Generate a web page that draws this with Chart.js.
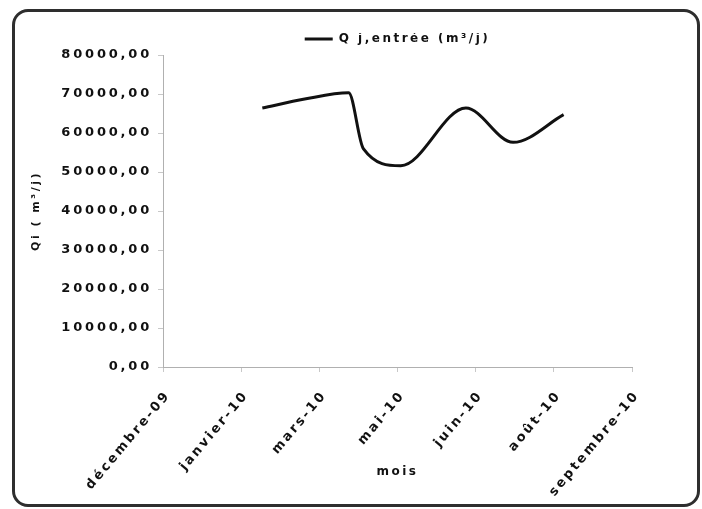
<!DOCTYPE html>
<html>
<head>
<meta charset="utf-8">
<script src="https://cdn.jsdelivr.net/npm/chart.js@4.4.1/dist/chart.umd.min.js"></script>
<style>
  html, body { margin: 0; padding: 0; background: #fff; }
  .wrap { position: relative; width: 702px; height: 509px; }
  .frame {
    position: absolute; left: 12px; top: 9px; width: 682px; height: 492px;
    border: 3px solid #2e2e2e; border-radius: 16px; pointer-events: none;
  }
  canvas { position: absolute; left: 0; top: 0; }
</style>
</head>
<body>
<div class="wrap">
  <canvas id="debit" width="702" height="509"></canvas>
  <div class="frame"></div>
</div>
<script>
// Débit journalier en entrée (m³/j), relevés 2010
const axisStart = '2009-12-13';
const axisStep = 48; // jours entre deux graduations
const tickLabels = ['décembre-09', 'janvier-10', 'mars-10', 'mai-10', 'juin-10', 'août-10', 'septembre-10'];
const dates = ['2010-02-12', '2010-03-10', '2010-04-06', '2010-04-15', '2010-05-08', '2010-06-17', '2010-07-16', '2010-08-16'];
const qEntree = [66400, 68700, 70300, 56000, 51600, 66400, 57600, 64700];

const dayOf = (d) => (Date.parse(d) - Date.parse(axisStart)) / 86400000;
const fmt = (v) => Number(v).toFixed(2).replace('.', ',');

const font = 'DejaVu Sans';
const ink = '#111';
const spacing = '2.5px';

const ctx = document.getElementById('debit').getContext('2d');

// graduations de l'axe Q avec leur propre espacement
const spacedLabels = (scale, ls) => {
  if (scale._spaced) return;
  const drawLabels = scale.drawLabels.bind(scale);
  scale.drawLabels = (area) => {
    scale.ctx.letterSpacing = ls;
    drawLabels(area);
    scale.ctx.letterSpacing = spacing;
  };
  scale._spaced = true;
};

new Chart(ctx, {
  type: 'line',
  data: {
    datasets: [
      {
        label: 'Q j,entrée (m³/j)',
        data: dates.map((d, i) => ({ x: dayOf(d), y: qEntree[i] })),
        borderColor: ink,
        backgroundColor: ink,
        borderWidth: 3,
        pointRadius: 0,
        cubicInterpolationMode: 'monotone',
        fill: false
      }
    ]
  },
  options: {
    responsive: false,
    animation: false,
    layout: { padding: { left: 20, right: 70, top: 33, bottom: 8 } },
    plugins: {
      tooltip: { enabled: false },
      legend: {
        position: 'top',
        fullSize: false,
        labels: {
          boxWidth: 28,
          boxHeight: 0,
          padding: 0,
          color: ink,
          font: { family: font, size: 12, weight: 'bold', lineHeight: 1 }
        }
      }
    },
    scales: {
      x: {
        type: 'linear',
        min: 0,
        max: axisStep * (tickLabels.length - 1),
        afterBuildTicks: (scale) => {
          scale.ticks = tickLabels.map((_, i) => ({ value: i * axisStep }));
        },
        afterFit: (scale) => { scale.height = 134; },
        ticks: {
          autoSkip: false,
          minRotation: 50,
          maxRotation: 50,
          padding: 16,
          labelOffset: 5,
          color: ink,
          font: { family: font, size: 13, weight: 'bold' },
          callback: (v, i) => tickLabels[i]
        },
        grid: { drawOnChartArea: false, drawTicks: true, tickLength: 5, color: '#c8c8c8' },
        border: { color: '#b0b0b0' },
        title: {
          display: true,
          text: 'mois',
          color: ink,
          padding: { top: 0, bottom: 22 },
          font: { family: font, size: 12, weight: 'bold' }
        }
      },
      y: {
        min: 0,
        max: 80000,
        afterFit: (scale) => { scale.width = 143; },
        ticks: {
          stepSize: 10000,
          padding: 6,
          color: ink,
          font: { family: font, size: 13, weight: 'bold' },
          callback: (v) => fmt(v)
        },
        grid: { drawOnChartArea: false, drawTicks: true, tickLength: 5, color: '#c8c8c8' },
        border: { color: '#b0b0b0' },
        title: {
          display: true,
          text: 'Qi ( m³/j)',
          color: ink,
          padding: { top: 10, bottom: 4 },
          font: { family: font, size: 11, weight: 'bold' }
        }
      }
    }
  },
  plugins: [
    {
      // texte espacé, fond blanc
      id: 'fond',
      beforeLayout: (chart) => { chart.ctx.letterSpacing = spacing; },
      afterLayout: (chart) => { spacedLabels(chart.scales.y, '2.8px'); },
      beforeDraw: (chart) => {
        const c = chart.ctx;
        c.letterSpacing = spacing;
        c.save();
        c.fillStyle = '#fff';
        c.fillRect(0, 0, chart.width, chart.height);
        c.restore();
      }
    }
  ]
});
</script>
</body>
</html>
